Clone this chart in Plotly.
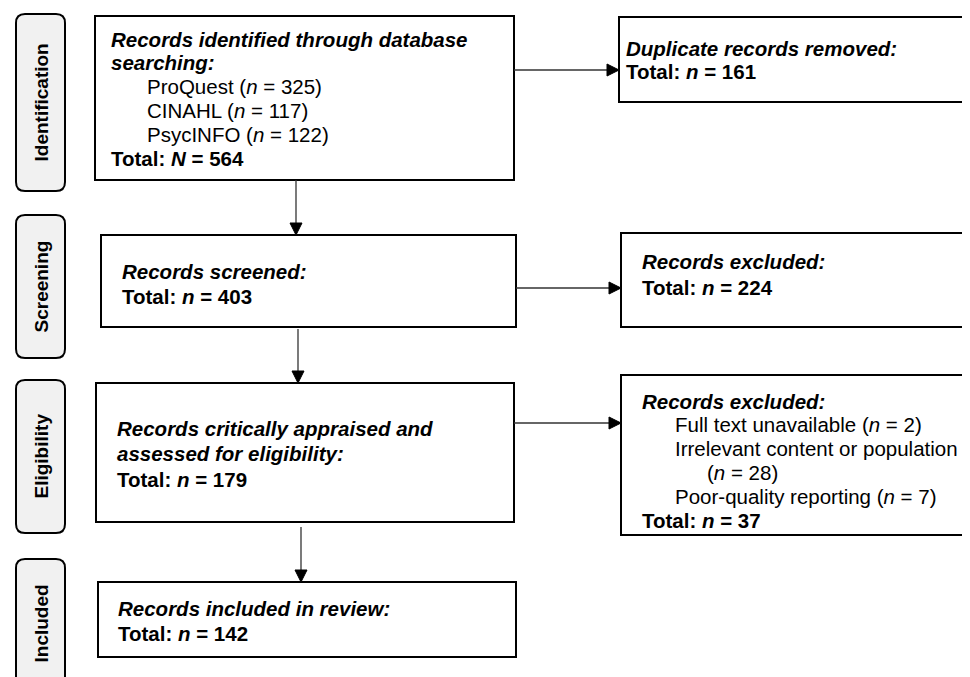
import plotly.graph_objects as go

# ---- data ----
stages = ["Identification", "Screening", "Eligibility", "Included"]
databases = ["ProQuest", "CINAHL", "PsycINFO"]
database_counts = [325, 117, 122]
total_identified = 564
duplicates_removed = 161
screened = 403
excluded_screening = 224
assessed = 179
excl_reasons = ["Full text unavailable", "Irrelevant content or population", "Poor-quality reporting"]
excl_counts = [2, 28, 7]
excluded_eligibility = 37
included = 142

W, H = 970, 677
FONT = "Liberation Sans, Arial, sans-serif"
FS = 20.5
LS = 23.8

fig = go.Figure()
shapes = []
annotations = []


def box(x0, y0, x1, y1):
    shapes.append(dict(type="rect", x0=x0, y0=y0, x1=x1, y1=y1, xref="x", yref="y",
                       line=dict(color="black", width=2), fillcolor="white", layer="below"))


def rbox(x0, y0, x1, y1, r=9):
    p = (f"M{x0+r},{y0} L{x1-r},{y0} Q{x1},{y0} {x1},{y0+r} L{x1},{y1-r} Q{x1},{y1} {x1-r},{y1} "
         f"L{x0+r},{y1} Q{x0},{y1} {x0},{y1-r} L{x0},{y0+r} Q{x0},{y0} {x0+r},{y0} Z")
    shapes.append(dict(type="path", path=p, xref="x", yref="y",
                       line=dict(color="black", width=2), fillcolor="#f1f1f1", layer="below"))


def text(x, y, s, size=FS):
    annotations.append(dict(x=x, y=y, xref="x", yref="y", text=s, showarrow=False,
                            xanchor="left", yanchor="middle", align="left", borderpad=0,
                            font=dict(family=FONT, size=size, color="black")))


def lines(x_list, y0, strs, ls=LS):
    for i, (x, s) in enumerate(zip(x_list, strs)):
        text(x, y0 + i * ls, s)


def arrow(x0, y0, x1, y1, head=12, half=6):
    shapes.append(dict(type="line", x0=x0, y0=y0, x1=x1, y1=y1, xref="x", yref="y",
                       line=dict(color="#333333", width=1.3)))
    if y0 == y1:  # horizontal, pointing right
        p = f"M{x1},{y1} L{x1-head},{y1-half} L{x1-head},{y1+half} Z"
    else:  # vertical, pointing down
        p = f"M{x1},{y1} L{x1-half},{y1-head} L{x1+half},{y1-head} Z"
    shapes.append(dict(type="path", path=p, xref="x", yref="y",
                       line=dict(color="black", width=1), fillcolor="black"))


def n_txt(c, sym="n"):
    return f"(<i>{sym}</i> = {c})"


def total_txt(c, sym="n"):
    return f"<b>Total: <i>{sym}</i> = {c}</b>"


# ---- stage labels ----
stage_boxes = [(6, 183), (207, 350), (372, 525), (551, 680)]
for name, (a, b) in zip(stages, stage_boxes):
    rbox(8, a, 57, b)
    annotations.append(dict(x=33, y=(a + b) / 2, xref="x", yref="y", text=f"<b>{name}</b>",
                            showarrow=False, textangle=-90, xanchor="center", yanchor="middle",
                            font=dict(family=FONT, size=19, color="black")))

# ---- main boxes ----
box(87, 8, 506, 172)
lines([102, 102] + [138] * 3 + [102], 31,
      ["<b><i>Records identified through database</i></b>", "<b><i>searching:</i></b>"]
      + [f"{d} {n_txt(c)}" for d, c in zip(databases, database_counts)]
      + [total_txt(total_identified, "N")])

box(93, 227, 508, 319)
lines([113, 113], 263, ["<b><i>Records screened:</i></b>", total_txt(screened)], 25)

box(88, 375, 506, 514)
lines([108, 108, 108], 420, ["<b><i>Records critically appraised and</i></b>",
                             "<b><i>assessed for eligibility:</i></b>", total_txt(assessed)], 25.5)

box(90, 574, 508, 649)
lines([109, 109], 600, ["<b><i>Records included in review:</i></b>", total_txt(included)], 25)

# ---- side boxes ----
box(611, 9, 980, 94)
lines([617, 617], 40, ["<b><i>Duplicate records removed:</i></b>", total_txt(duplicates_removed)])

box(613, 225, 980, 319)
lines([633, 633], 253, ["<b><i>Records excluded:</i></b>", total_txt(excluded_screening)], 26)

box(613, 367, 980, 527)
lines([633, 666, 666, 698, 666, 633], 393,
      ["<b><i>Records excluded:</i></b>",
       f"{excl_reasons[0]} {n_txt(excl_counts[0])}",
       excl_reasons[1],
       n_txt(excl_counts[1]),
       f"{excl_reasons[2]} {n_txt(excl_counts[2])}",
       total_txt(excluded_eligibility)])

# ---- arrows ----
arrow(506, 62, 611, 62)
arrow(288, 172, 288, 227)
arrow(508, 280, 613, 280)
arrow(290, 321, 290, 375)
arrow(506, 415, 613, 415)
arrow(293, 519, 293, 574)

fig.update_layout(
    width=W, height=H, margin=dict(l=0, r=0, t=0, b=0),
    paper_bgcolor="white", plot_bgcolor="white",
    xaxis=dict(range=[0, W], visible=False, fixedrange=True),
    yaxis=dict(range=[H, 0], visible=False, fixedrange=True),
    shapes=shapes, annotations=annotations, showlegend=False,
)
fig.write_html("out.html")
